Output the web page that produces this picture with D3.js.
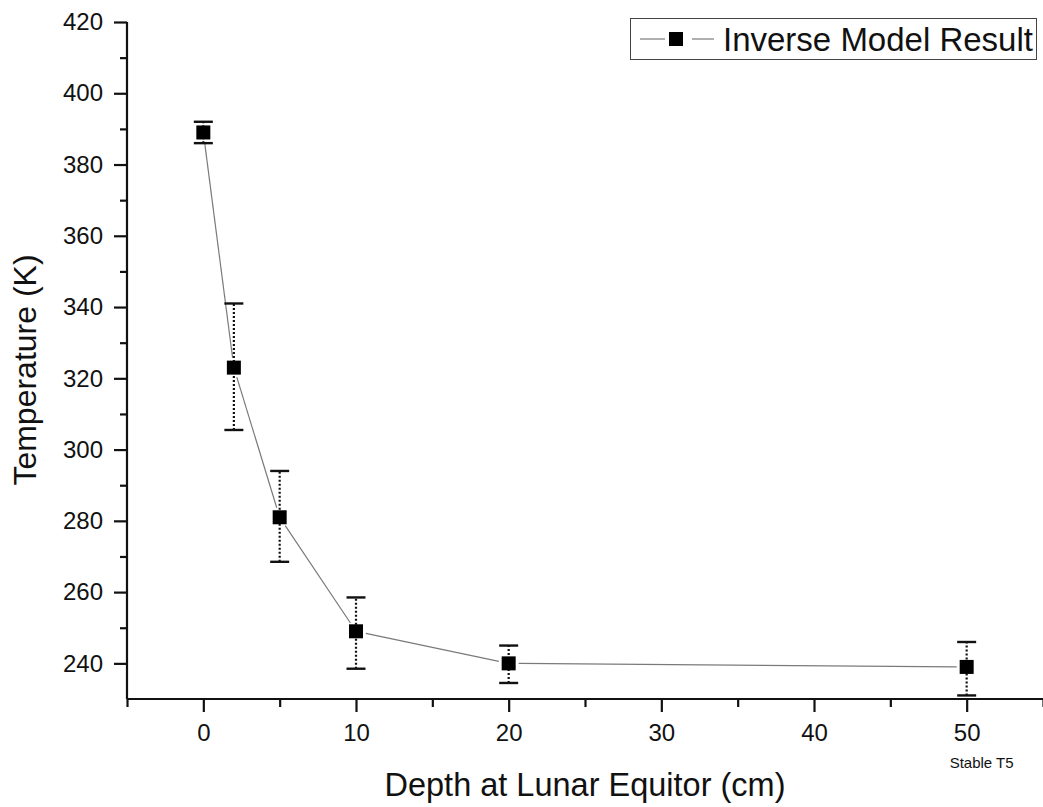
<!DOCTYPE html>
<html>
<head>
<meta charset="utf-8">
<script src="https://cdn.jsdelivr.net/npm/d3@7"></script>
<style>
  html, body { margin: 0; padding: 0; background: #fff; }
  svg { display: block; }
  text { font-family: "Liberation Sans", Arial, sans-serif; fill: #111; }
</style>
</head>
<body>
<svg id="chart" width="1043" height="807"></svg>
<script>
// ---- data ----
const depth = [0, 2, 5, 10, 20, 50];
const temperature = [389, 323, 281, 249, 240, 239];
const errLow = [386, 305.5, 268.5, 238.5, 234.5, 231];
const errHigh = [392, 341, 294, 258.5, 245, 246];
const xTicks = [0, 10, 20, 30, 40, 50];
const xMinorTicks = [-5, 5, 15, 25, 35, 45, 55];
const yTicks = [240, 260, 280, 300, 320, 340, 360, 380, 400, 420];
const yMinorTicks = [250, 270, 290, 310, 330, 350, 370, 390, 410];
const seriesName = "Inverse Model Result";
const xTitle = "Depth at Lunar Equitor (cm)";
const yTitle = "Temperature (K)";
const xNote = "Stable T5";

const svg = d3.select("#chart");
const pL = 127, pR = 1043, pT = 22, pB = 699;

const x = d3.scaleLinear().domain([-5, 55]).range([pL, pR]);
const y = d3.scaleLinear().domain([230, 420]).range([pB, pT]);

// axes
const gx = svg.append("g").attr("transform", `translate(0,${pB})`)
  .call(d3.axisBottom(x).tickValues(xTicks).tickSize(13).tickPadding(12).tickFormat(d3.format("d")));
const gxm = svg.append("g").attr("transform", `translate(0,${pB})`)
  .call(d3.axisBottom(x).tickValues(xMinorTicks).tickSize(8).tickFormat(""));
const gy = svg.append("g").attr("transform", `translate(${pL},0)`)
  .call(d3.axisLeft(y).tickValues(yTicks).tickSize(13).tickPadding(11).tickFormat(d3.format("d")));
const gym = svg.append("g").attr("transform", `translate(${pL},0)`)
  .call(d3.axisLeft(y).tickValues(yMinorTicks).tickSize(7).tickFormat(""));

[gx, gxm, gy, gym].forEach(g => {
  g.select(".domain").attr("stroke", "#111").attr("stroke-width", 2.2);
  g.selectAll(".tick line").attr("stroke", "#111").attr("stroke-width", 2.2);
});
gxm.select(".domain").remove();
gym.select(".domain").remove();
gx.select(".domain").attr("d", `M${pL},0H${pR}`);
gy.select(".domain").attr("d", `M0,${pT}V${pB}`);
gx.selectAll(".tick text").style("font-size", "24px").attr("fill", "#111");
gy.selectAll(".tick text").style("font-size", "24px").attr("fill", "#111");

// titles
svg.append("text").attr("x", (pL + pR) / 2).attr("y", 796).attr("text-anchor", "middle")
  .style("font-size", "32.5px").text(xTitle);
svg.append("text").attr("transform", `translate(36,370) rotate(-90)`).attr("text-anchor", "middle")
  .style("font-size", "32px").text(yTitle);
svg.append("text").attr("x", x(50) - 17).attr("y", 768)
  .style("font-size", "15px").text(xNote);

// connecting line with gaps at markers
const pts = depth.map((d, i) => [x(d), y(temperature[i])]);
const gap = 10;
for (let i = 0; i < pts.length - 1; i++) {
  const [x1, y1] = pts[i], [x2, y2] = pts[i + 1];
  const len = Math.hypot(x2 - x1, y2 - y1);
  const ux = (x2 - x1) / len, uy = (y2 - y1) / len;
  svg.append("line")
    .attr("x1", x1 + ux * gap).attr("y1", y1 + uy * gap)
    .attr("x2", x2 - ux * gap).attr("y2", y2 - uy * gap)
    .attr("stroke", "#7a7a7a").attr("stroke-width", 1.2);
}

// error bars
const eb = svg.append("g");
depth.forEach((d, i) => {
  const cx = x(d);
  eb.append("line").attr("x1", cx).attr("x2", cx)
    .attr("y1", y(errLow[i])).attr("y2", y(errHigh[i]))
    .attr("stroke", "#111").attr("stroke-width", 2.2).attr("stroke-dasharray", "2,2");
  [errLow[i], errHigh[i]].forEach(v => {
    eb.append("line").attr("x1", cx - 9.5).attr("x2", cx + 9.5)
      .attr("y1", y(v)).attr("y2", y(v))
      .attr("stroke", "#111").attr("stroke-width", 2.4);
  });
});

// markers
svg.append("g").selectAll("rect").data(depth).join("rect")
  .attr("x", d => x(d) - 7).attr("y", (d, i) => y(temperature[i]) - 7)
  .attr("width", 14).attr("height", 14).attr("fill", "#000");

// legend
const lg = svg.append("g");
lg.append("rect").attr("x", 630.5).attr("y", 18.5).attr("width", 406).attr("height", 41)
  .attr("fill", "#fff").attr("stroke", "#444").attr("stroke-width", 1);
lg.append("line").attr("x1", 640).attr("x2", 665).attr("y1", 39).attr("y2", 39)
  .attr("stroke", "#7a7a7a").attr("stroke-width", 1.2);
lg.append("line").attr("x1", 692).attr("x2", 714).attr("y1", 39).attr("y2", 39)
  .attr("stroke", "#7a7a7a").attr("stroke-width", 1.2);
lg.append("rect").attr("x", 669).attr("y", 32).attr("width", 14).attr("height", 14).attr("fill", "#000");
lg.append("text").attr("x", 723).attr("y", 51).style("font-size", "33px").text(seriesName);
</script>
</body>
</html>
